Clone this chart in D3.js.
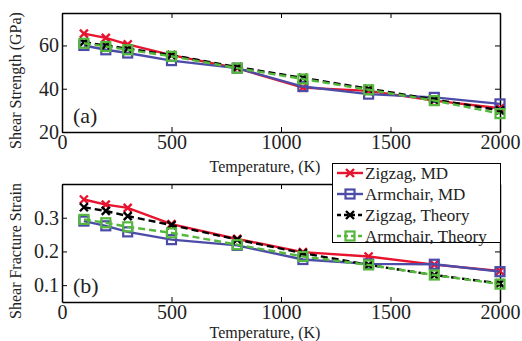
<!DOCTYPE html>
<html>
<head>
<meta charset="utf-8">
<script src="https://cdn.jsdelivr.net/npm/d3@7"></script>
</head>
<body style="margin:0; background:#fff">
<div id="chart"></div>
<script>
// temperatures (K)
var temps = [100, 200, 300, 500, 800, 1100, 1400, 1700, 2000];

// (a) shear strength, GPa
var strZigMD = [65.5, 63.5, 60.5, 55.5, 49.5, 40.5, 39, 34.5, 31];
var strArmMD = [60, 58, 56.5, 53, 49.5, 41, 37.5, 36, 33];
var strZigTh = [61.5, 60, 58.5, 55.5, 50, 45, 40, 35, 30];
var strArmTh = [61, 59.5, 58, 55, 49.5, 44.5, 39.5, 34.5, 28.5];

// (b) shear fracture strain
var stnZigMD = [0.354, 0.339, 0.329, 0.281, 0.237, 0.198, 0.185, 0.161, 0.142];
var stnArmMD = [0.290, 0.276, 0.258, 0.235, 0.218, 0.176, 0.163, 0.162, 0.140];
var stnZigTh = [0.331, 0.320, 0.305, 0.278, 0.235, 0.195, 0.160, 0.130, 0.105];
var stnArmTh = [0.295, 0.285, 0.273, 0.255, 0.220, 0.185, 0.160, 0.130, 0.103];

var seriesNames = ['Zigzag, MD', 'Armchair, MD', 'Zigzag, Theory', 'Armchair, Theory'];
var xTicks = [0, 500, 1000, 1500, 2000];
var strTicks = [20, 40, 60];
var stnTicks = [0.1, 0.2, 0.3];

var styles = [
  { color: '#e6142f', dash: null, marker: 'x' },
  { color: '#4c4ca8', dash: null, marker: 'sq' },
  { color: '#000000', dash: '7,4', marker: 'x' },
  { color: '#55b83c', dash: '7,4', marker: 'sq' }
];

var FONT = "'Liberation Serif'";
var W = 522, H = 341;
var svg = d3.select('#chart').append('svg')
  .attr('width', W).attr('height', H);

var x = d3.scaleLinear().domain([0, 2000]).range([62, 500]);

function drawMarker(g, type, px, py, color) {
  if (type === 'x') {
    var s = 4;
    g.append('path')
      .attr('d', 'M' + (px - s) + ',' + (py - s) + 'L' + (px + s) + ',' + (py + s) +
                 'M' + (px - s) + ',' + (py + s) + 'L' + (px + s) + ',' + (py - s))
      .attr('stroke', color).attr('stroke-width', 2.4).attr('fill', 'none');
  } else {
    var s = 4.5;
    g.append('rect')
      .attr('x', px - s).attr('y', py - s).attr('width', 2 * s).attr('height', 2 * s)
      .attr('stroke', color).attr('stroke-width', 2.2).attr('fill', 'none');
  }
}

function styleTicks(a) {
  a.select('.domain').attr('stroke-width', 1.5);
  a.selectAll('text').style('font-family', FONT).style('font-size', '20px').attr('fill', '#222');
}

function label(g) {
  return g.append('text').style('font-family', FONT).attr('fill', '#222');
}

function panel(top, bottom, yDomain, yTicks, data, ylabel, tag, tickFmt, titleY) {
  var y = d3.scaleLinear().domain(yDomain).range([bottom, top]);
  var g = svg.append('g');

  // axes (inward ticks, box all round)
  g.append('g').attr('transform', 'translate(0,' + bottom + ')')
    .call(d3.axisBottom(x).tickValues(xTicks).tickSizeInner(-5).tickSizeOuter(0).tickPadding(3).tickFormat(d3.format('d')))
    .call(styleTicks);
  g.append('g').attr('transform', 'translate(0,' + top + ')')
    .call(d3.axisTop(x).tickValues(xTicks).tickSizeInner(-5).tickSizeOuter(0).tickFormat(''))
    .call(styleTicks);
  g.append('g').attr('transform', 'translate(62,0)')
    .call(d3.axisLeft(y).tickValues(yTicks).tickSizeInner(-5).tickSizeOuter(0).tickPadding(3).tickFormat(tickFmt))
    .call(styleTicks);
  g.append('g').attr('transform', 'translate(500,0)')
    .call(d3.axisRight(y).tickValues(yTicks).tickSizeInner(-5).tickSizeOuter(0).tickFormat(''))
    .call(styleTicks);

  // lines
  var line = d3.line().x(function (d, i) { return x(temps[i]); }).y(function (d) { return y(d); });
  data.forEach(function (vals, k) {
    var st = styles[k];
    g.append('path').datum(vals)
      .attr('d', line)
      .attr('fill', 'none')
      .attr('stroke', st.color)
      .attr('stroke-width', 2.4)
      .attr('stroke-dasharray', st.dash);
    vals.forEach(function (v, i) {
      drawMarker(g, st.marker, x(temps[i]), y(v), st.color);
    });
  });

  label(g).attr('x', 73).attr('y', bottom - 9)
    .style('font-size', '22px').text(tag);

  label(g)
    .attr('transform', 'translate(21,' + ((top + bottom) / 2 + 8) + ') rotate(-90)')
    .attr('text-anchor', 'middle').style('font-size', '16px').text(ylabel);

  label(g).attr('x', 265).attr('y', titleY)
    .attr('text-anchor', 'middle').style('font-size', '16px').text('Temperature, (K)');
}

panel(13, 132, [20, 75], strTicks, [strZigMD, strArmMD, strZigTh, strArmTh],
  'Shear Strength (GPa)', '(a)', d3.format('d'), 172);
panel(184, 302, [0.05, 0.4], stnTicks, [stnZigMD, stnArmMD, stnZigTh, stnArmTh],
  'Shear Fracture Strain', '(b)', d3.format('.1f'), 338);

// legend
var lg = svg.append('g');
lg.append('rect').attr('x', 332.5).attr('y', 163.5).attr('width', 168).attr('height', 79)
  .attr('fill', '#fff').attr('stroke', '#000').attr('stroke-width', 1);
seriesNames.forEach(function (name, k) {
  var st = styles[k];
  var yy = 173 + k * 21;
  lg.append('line').attr('x1', 337).attr('x2', 363).attr('y1', yy).attr('y2', yy)
    .attr('stroke', st.color).attr('stroke-width', 2.4)
    .attr('stroke-dasharray', st.dash ? '4,3' : null);
  drawMarker(lg, st.marker, 350, yy, st.color);
  label(lg).attr('x', 365).attr('y', yy + 6).style('font-size', '17px').text(name);
});
</script>
</body>
</html>
